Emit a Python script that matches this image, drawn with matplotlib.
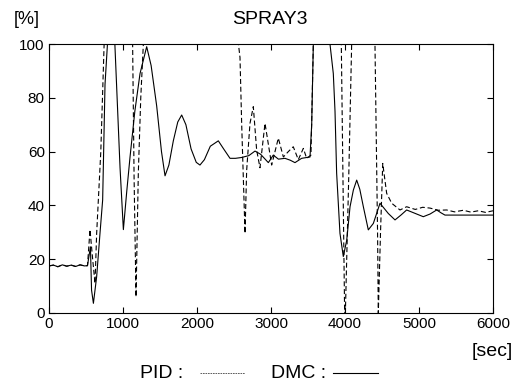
import matplotlib
matplotlib.use("Agg")
import matplotlib.pyplot as plt
from matplotlib.lines import Line2D

plt.rcParams['font.family'] = ['Liberation Sans', 'DejaVu Sans']

# DMC (solid)
dmc_t = [0, 60, 120, 180, 240, 300, 360, 420, 480, 520, 560, 575, 600, 644, 689, 725, 757, 790,
         890, 960, 1005, 1050, 1095, 1160, 1230, 1320, 1380, 1455, 1520, 1568, 1620, 1680, 1740, 1793,
         1850, 1920, 1990, 2040, 2100, 2180, 2288, 2360, 2446, 2520, 2600, 2700, 2784, 2860, 2964,
         3031, 3100, 3189, 3260, 3324, 3414, 3527, 3550, 3572, 3797, 3842, 3865, 3887, 3932, 3977,
         4023, 4068, 4113, 4158, 4200, 4248, 4315, 4383, 4473, 4585, 4676, 4760, 4833, 4950, 5058,
         5150, 5239, 5300, 5351, 5500, 5700, 6000]
dmc_v = [17.5, 17.8, 17.2, 17.9, 17.4, 17.8, 17.3, 17.9, 17.5, 17.6, 24.6, 8.5, 3.6, 13.5, 29.6, 42, 85, 100,
         100, 54, 31, 45, 58, 75, 89, 99, 92, 77, 60, 51, 55, 64, 71, 73.6,
         70, 61, 56, 55, 57, 62, 64, 61, 57.5, 57.5, 57.8, 58.5, 60.2, 59, 55.9,
         58.7, 57.2, 57.5, 56.8, 55.9, 57.5, 58, 70, 100, 100, 89, 75, 52, 29.6, 21,
         27, 39.5, 45.7, 49.4, 46, 39.5, 30.9, 33.3, 40.8, 37, 34.6, 36.5, 38.3, 37, 35.8,
         36.8, 38.3, 37.2, 36.4, 36.4, 36.4, 36.4]

# PID (dashed)
pid_t = [0, 60, 120, 180, 240, 300, 360, 420, 480, 520, 554, 590, 622, 644, 700, 745,
         1130, 1150, 1176, 1207, 1240, 1275,
         2560, 2581, 2604, 2649, 2671, 2716, 2761, 2806, 2851, 2919, 3009, 3099, 3167, 3234, 3301,
         3369, 3437, 3482, 3540, 3572,
         3950, 3995, 4005, 4050, 4090, 4405, 4440, 4450, 4480, 4510, 4563, 4631, 4743, 4833, 4950,
         5050, 5149, 5260, 5374, 5480, 5600, 5700, 5800, 5900, 6000]
pid_v = [17.5, 17.8, 17.2, 17.9, 17.4, 17.8, 17.3, 17.9, 17.5, 17.6, 31, 20, 11, 29.6, 60, 100,
         100, 50, 6, 52, 80, 100,
         100, 95, 70, 29.6, 53, 70.5, 76.7, 60.6, 54, 70.5, 55, 65, 58, 60, 61.8,
         57, 61.2, 57.5, 58.7, 100,
         100, 0, 0, 50, 100, 100, 30, 0, 30, 55.6, 44.5, 40.8, 38.3, 39.5, 38.5,
         39.3, 39, 38.2, 38.3, 37.6, 38.2, 37.5, 38, 37.4, 38]

xticks = [0, 1000, 2000, 3000, 4000, 5000, 6000]
yticks = [0, 20, 40, 60, 80, 100]

fig = plt.figure(figsize=(5.26, 3.85), dpi=100)
ax = fig.add_axes([49/526, 1-313/385, (493-49)/526, (313-44)/385])
dash = (0, (4.5, 2.5))
ax.plot(pid_t, pid_v, color='black', lw=0.8, linestyle=dash)
ax.plot(dmc_t, dmc_v, color='black', lw=0.8)
ax.set_xlim(0, 6000)
ax.set_ylim(0, 100)
ax.set_xticks(xticks)
ax.set_yticks(yticks)
ax.tick_params(direction='in', top=True, right=True, length=4, width=0.8,
               labelsize=11, pad=3)
for s in ax.spines.values():
    s.set_linewidth(0.8)

fig.text(270/526, 1-19/385, 'SPRAY3', ha='center', va='center', fontsize=14)
fig.text(14/526, 1-19/385, '[%]', ha='left', va='center', fontsize=13)
fig.text(513/526, 1-351/385, '[sec]', ha='right', va='center', fontsize=14)

ly = 1-373/385
fig.text(183/526, ly, 'PID :', ha='right', va='center', fontsize=14)
fig.add_artist(Line2D([200/526, 245/526], [ly, ly], color='#444444', lw=0.6,
                      linestyle=(0, (2, 1)), transform=fig.transFigure))
fig.text(326/526, ly, 'DMC :', ha='right', va='center', fontsize=14)
fig.add_artist(Line2D([333/526, 378/526], [ly, ly], color='black', lw=0.8,
                      transform=fig.transFigure))

fig.savefig('out.png', dpi=100)
